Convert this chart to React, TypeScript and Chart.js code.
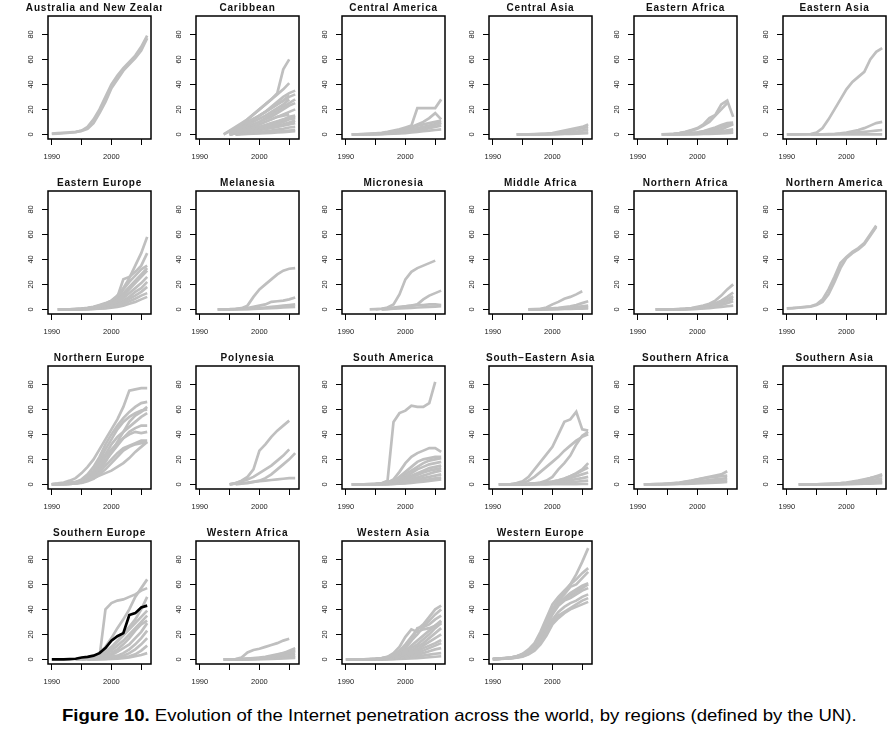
import React, { useEffect, useRef } from 'react';
import { Chart, registerables } from 'chart.js';

Chart.register(...registerables);

const N = null;

const years = [1990, 1991, 1992, 1993, 1994, 1995, 1996, 1997, 1998, 1999, 2000, 2001, 2002, 2003, 2004, 2005, 2006];
const yTickValues = [0, 20, 40, 60, 80];
const xTickValues = [1990, 1995, 2000, 2005];
const xLabelled = [1990, 2000];

const australiaNZ = [
  [0.6, 1, 1.3, 1.6, 2, 2.8, 4.5, 9, 17, 26, 37, 44, 51, 56, 61, 67, 77],
  [0.3, 0.6, 1, 1.3, 1.8, 3, 6, 12, 20, 30, 40, 47, 53, 58, 63, 70, 79],
];

const caribbean = [
  [N, N, N, N, N, 0, 4, 8, 12, 16, 20, 24, 28, 33, 52, 60, N],
  [N, N, N, N, 0, 3, 6, 9, 12, 16, 20, 24, 28, 32, 36, 41, N],
  [N, N, N, N, N, 0, 3, 6, 9, 12, 15, 18, 22, 26, 30, 33, 35],
  [N, N, N, N, 0, 2.5, 5, 7.5, 10, 12.5, 15, 18, 21, 24, 27, 30, 32],
  [N, N, N, N, N, 0, 2.5, 5, 7.5, 10, 12.5, 15, 18, 21, 24, 28, N],
  [N, N, N, N, N, 0, 2, 4, 6, 8, 10, 12, 14, 17, 20, 23, 25],
  [N, N, N, N, N, 0, 1.5, 3, 4.5, 6, 8, 10, 12, 14, 16, 18, 20],
  [N, N, N, N, N, 0, 1, 2, 3, 4.5, 6, 7.5, 9, 10.5, 12, 14, 15],
  [N, N, N, N, N, 0, 1, 2, 3, 4, 5, 6, 7, 8.5, 10, 12, 13],
  [N, N, N, N, N, 0, 0.7, 1.4, 2, 2.8, 3.5, 4.3, 5, 6, 7, 8, 9],
  [N, N, N, N, N, N, 0, 0.5, 1, 1.5, 2, 2.5, 3, 3.8, 4.5, 5.5, 6],
  [N, N, N, N, N, N, 0, 0.3, 0.6, 0.9, 1.2, 1.5, 1.8, 2.2, 2.6, 3, 3.5],
  [N, N, N, N, N, 0, 1.5, 3, 4.5, 6, 8, 10, 12, 14, 15, 16, N],
  [N, N, N, N, N, 0, 3, 6, 9, 12, 15, 18, 21, 24, 27, 31, N],
  [N, N, N, N, N, 0, 1, 2, 3, 4, 5.5, 7, 8.5, 10, 11.5, 13, 14],
  [N, N, N, N, N, N, 0, 0.2, 0.4, 0.6, 0.8, 1, 1.2, 1.5, 1.8, 2.2, 2.5],
  [N, N, N, N, N, 0, 2, 4, 6, 8, 10, 13, 16, 19, 22, 25, 28],
  [N, N, N, N, N, 0, 0.8, 1.6, 2.4, 3.2, 4, 5, 6, 7, 8, 9.5, 11],
];

const centralAmerica = [
  [N, 0, 0.1, 0.3, 0.5, 0.8, 1.2, 2, 3, 4, 5.5, 7, 21, 21, 21, 21, 28],
  [N, N, 0, 0.1, 0.3, 0.5, 0.8, 1.2, 2, 3, 4.5, 6, 8, 10, 13, 17, 12],
  [N, 0, 0.1, 0.2, 0.3, 0.5, 0.8, 1.2, 2, 3, 4, 5.5, 7, 8, 9, 10, 11],
  [N, 0, 0, 0.1, 0.2, 0.3, 0.5, 0.8, 1.2, 2, 3, 4, 5, 6, 7, 8, 9],
  [N, 0, 0, 0.1, 0.1, 0.2, 0.3, 0.5, 0.8, 1.2, 1.8, 2.5, 3.3, 4, 5, 6, 7],
  [N, 0, 0, 0, 0.1, 0.1, 0.2, 0.3, 0.5, 0.7, 1, 1.5, 2, 2.5, 3, 3.5, 4],
  [N, N, N, 0, 0.1, 0.2, 0.4, 0.7, 1, 1.5, 2.2, 3, 4, 5, 6.5, 8, 9.5],
];

const centralAsia = [
  [N, N, N, N, 0, 0, 0.1, 0.2, 0.4, 0.6, 1, 2, 3, 4, 5, 6, 8],
  [N, N, N, N, 0, 0, 0, 0.1, 0.2, 0.4, 0.6, 1, 1.5, 2.5, 4, 5, 6],
  [N, N, N, N, 0, 0, 0, 0, 0.1, 0.2, 0.4, 0.6, 1, 1.5, 2, 3, 4],
  [N, N, N, N, N, 0, 0, 0, 0, 0.1, 0.2, 0.3, 0.5, 0.7, 1, 1.3, 1.6],
  [N, N, N, N, N, N, 0, 0, 0, 0, 0.1, 0.2, 0.3, 0.4, 0.6, 0.8, 1],
];

const easternAfrica = [
  [N, N, N, N, 0, 0.2, 0.5, 1, 2, 3.5, 5, 8, 13, 15.5, 24, 27, 14],
  [N, N, N, N, 0, 0.1, 0.4, 1, 1.8, 3, 4.5, 7, 10, 15, 20, 25, N],
  [N, N, N, N, 0, 0, 0.1, 0.3, 0.6, 1, 1.5, 2.5, 4, 5.5, 7.5, 9, 9.5],
  [N, N, N, N, N, 0, 0.1, 0.2, 0.4, 0.7, 1, 1.5, 2, 3, 4, 6, 8],
  [N, N, N, N, N, 0, 0, 0.1, 0.2, 0.4, 0.6, 0.9, 1.3, 1.8, 2.5, 3.3, 4],
  [N, N, N, N, N, 0, 0, 0.1, 0.1, 0.2, 0.3, 0.5, 0.7, 1, 1.4, 1.8, 2.3],
  [N, N, N, N, N, N, 0, 0, 0.1, 0.1, 0.2, 0.3, 0.4, 0.6, 0.8, 1, 1.3],
  [N, N, N, N, N, 0, 0.1, 0.3, 0.6, 1, 1.6, 2.4, 3.3, 4.5, 6, 7.5, 8.5],
];

const easternAsia = [
  [0, 0, 0, 0.1, 0.3, 1.5, 5, 12, 20, 28, 36, 42, 46, 50, 60, 66, 69],
  [N, N, N, N, 0, 0, 0, 0.1, 0.3, 0.8, 1.5, 2.5, 3.5, 5, 7, 9, 10],
  [0, 0, 0, 0, 0, 0, 0.1, 0.2, 0.3, 0.5, 0.8, 1.2, 1.6, 2, 2.5, 3, 3.5],
  [N, N, N, N, N, 0, 0, 0, 0, 0, 0, 0, 0, 0, 0, 0, 0],
];

const easternEurope = [
  [N, 0, 0, 0.1, 0.2, 0.5, 1, 1.8, 3, 4.5, 7, 11, 17, 25, 35, 45, 58],
  [N, 0, 0, 0.1, 0.3, 0.6, 1.2, 2, 3.5, 5, 7, 10, 24, 26, 30, 35, 45],
  [N, 0, 0, 0.1, 0.2, 0.4, 0.8, 1.5, 2.5, 4, 6, 10, 16, 22, 27, 32, 35],
  [N, 0, 0, 0, 0.1, 0.3, 0.6, 1.2, 2, 3, 5, 7.5, 11, 16, 21, 26, 31],
  [N, N, 0, 0, 0.1, 0.2, 0.5, 1, 1.8, 2.8, 4, 6, 9, 13, 17, 21, 26],
  [N, N, 0, 0, 0, 0.1, 0.3, 0.6, 1.1, 1.8, 2.8, 4, 6, 8.5, 11, 14, 18],
  [N, N, 0, 0, 0, 0.1, 0.2, 0.4, 0.7, 1.2, 2, 3, 4.5, 6.5, 8.5, 11, 13],
  [N, N, N, 0, 0, 0.1, 0.2, 0.3, 0.5, 0.8, 1.3, 2, 3, 4.5, 6, 8, 10],
  [N, 0, 0, 0.1, 0.2, 0.4, 0.8, 1.5, 2.5, 4, 6, 9, 13, 18, 23, 28, 33],
  [N, N, 0, 0, 0.1, 0.2, 0.4, 0.8, 1.4, 2.2, 3.5, 5, 7, 10, 14, 17, 22],
];

const melanesia = [
  [N, N, N, 0, 0.1, 0.2, 0.5, 1, 3, 10, 16, 20, 24, 28, 31, 32.5, 33],
  [N, N, N, 0, 0, 0.1, 0.3, 0.6, 1, 2, 3, 4, 6, 6.5, 7, 8, 9.5],
  [N, N, N, 0, 0, 0, 0.1, 0.2, 0.4, 0.6, 1, 1.5, 2, 2.5, 3, 3.5, 4],
  [N, N, N, N, 0, 0, 0, 0.1, 0.2, 0.3, 0.5, 0.7, 1, 1.2, 1.5, 1.8, 2],
];

const micronesia = [
  [N, N, N, N, N, 0, 0.5, 1.5, 4, 12, 24, 30, 33, 35, 37, 39, N],
  [N, N, N, N, N, N, 0, 0.3, 0.8, 1.5, 2.5, 3, 4, 8, 11, 13, 15],
  [N, N, N, N, 0, 0.2, 0.5, 1, 1.5, 2, 2.5, 3, 3.5, 3.5, 4, 4, 3.5],
  [N, N, N, N, N, N, 0, 0.2, 0.5, 0.8, 1, 1.2, 1.5, 1.7, 2, 2.2, 2.5],
];

const middleAfrica = [
  [N, N, N, N, N, N, 0, 0.2, 0.5, 1.5, 4, 6, 8.5, 10, 12, 14.5, N],
  [N, N, N, N, N, N, 0, 0.1, 0.2, 0.4, 0.8, 1.2, 1.8, 2.5, 3.5, 5, 6.5],
  [N, N, N, N, N, N, 0, 0, 0.1, 0.2, 0.4, 0.6, 1, 1.4, 2, 2.5, 3],
  [N, N, N, N, N, N, 0, 0, 0, 0.1, 0.2, 0.3, 0.5, 0.7, 0.9, 1.2, 1.5],
  [N, N, N, N, N, N, 0, 0, 0, 0.1, 0.1, 0.2, 0.3, 0.4, 0.5, 0.6, 0.7],
];

const northernAfrica = [
  [N, N, N, 0, 0, 0, 0.1, 0.2, 0.5, 1, 2, 3, 4.5, 7, 11, 16, 20],
  [N, N, N, 0, 0, 0, 0.1, 0.2, 0.4, 0.8, 1.5, 2.5, 3.5, 5, 7, 10, 13.5],
  [N, N, N, 0, 0, 0, 0.1, 0.2, 0.4, 0.7, 1.3, 2.2, 3.5, 4.5, 6, 8, 10.5],
  [N, N, N, 0, 0, 0, 0, 0.1, 0.2, 0.5, 1, 1.8, 2.6, 3.5, 5, 7, 8.5],
  [N, N, N, 0, 0, 0, 0, 0.1, 0.2, 0.3, 0.6, 1, 1.5, 2.5, 3.5, 5, 6.5],
  [N, N, N, N, 0, 0, 0, 0, 0.1, 0.2, 0.4, 0.7, 1, 1.5, 2, 2.5, 3],
];

const northernAmerica = [
  [0.8, 1, 1.5, 2, 2.5, 4, 8, 16, 26, 37, 42, 46, 49, 53, 60, 67, N],
  [0.8, 1, 1.3, 1.7, 2.2, 3.5, 6, 12, 22, 33, 41, 45, 48, 52, 59, 66, N],
];

const northernEurope = [
  [0.3, 0.8, 1.5, 3, 5, 9, 14, 20, 28, 36, 44, 52, 62, 75, 76, 77, 77],
  [0.1, 0.3, 0.7, 1.2, 2, 4, 8, 14, 22, 32, 40, 47, 53, 58, 62, 65, 66],
  [0, 0.2, 0.5, 1, 1.8, 3, 6, 11, 19, 28, 36, 44, 50, 54, 57, 59, 60],
  [0, 0.2, 0.4, 0.8, 1.5, 2.5, 5, 10, 17, 24, 32, 38, 42, 46, 50, 54, 57],
  [0, 0.1, 0.3, 0.6, 1, 2, 4, 8, 13, 19, 25, 31, 37, 42, 45, 47, 47],
  [0, 0.1, 0.2, 0.4, 0.8, 1.5, 3, 6, 10, 15, 20, 25, 29, 31, 33, 35, 35],
  [0, 0.1, 0.2, 0.4, 0.7, 1.2, 2.5, 4.5, 8, 12, 17, 22, 27, 30, 32, 33, 34],
  [0.1, 0.2, 0.3, 0.5, 1, 2, 4, 8, 14, 22, 28, 33, 37, 40, 42, 41, 42],
  [0, 0.1, 0.2, 0.4, 0.7, 1.5, 3, 7, 12, 18, 26, 34, 42, 50, 55, 58, 62],
  [0, 0.1, 0.3, 0.6, 1, 2, 3.5, 5, 7, 9, 11, 14, 17, 21, 26, 30, 34],
];

const polynesia = [
  [N, N, N, N, N, 0, 1, 3, 6, 12, 27, 32, 38, 43, 47, 51, N],
  [N, N, N, N, N, 0, 1, 2.5, 4, 6, 9, 12, 15, 19, 23, 28, N],
  [N, N, N, N, N, N, 0, 0.5, 1, 2, 3, 5, 8, 12, 16, 20, 25],
  [N, N, N, N, N, 0, 0.5, 1, 1.5, 2, 2.5, 3, 3.5, 4, 4.5, 5, 5],
];

const southAmerica = [
  [N, N, N, N, N, N, 1, 3, 50, 57, 59, 63, 62, 62, 65, 82, N],
  [N, 0, 0, 0.1, 0.2, 0.4, 0.8, 1.5, 4, 10, 17, 22, 25, 27, 29, 29, 26],
  [N, 0, 0, 0.1, 0.2, 0.4, 0.8, 1.5, 3, 6, 10, 14, 18, 20, 21, 22, 22],
  [N, 0, 0, 0.1, 0.1, 0.3, 0.6, 1.2, 2.5, 5, 8, 11, 14, 17, 19, 20, 21],
  [N, 0, 0, 0, 0.1, 0.2, 0.5, 1, 2, 4, 6, 9, 12, 14, 16, 17, 18],
  [N, 0, 0, 0, 0.1, 0.2, 0.4, 0.8, 1.5, 3, 5, 7, 9, 11, 13, 14, 15],
  [N, 0, 0, 0, 0, 0.1, 0.3, 0.6, 1.2, 2.3, 3.7, 5.5, 7.5, 9.5, 11, 12, 13],
  [N, N, 0, 0, 0, 0.1, 0.2, 0.4, 0.8, 1.5, 2.5, 4, 5.5, 7, 8.5, 10, 11],
  [N, N, 0, 0, 0, 0, 0.1, 0.3, 0.6, 1, 1.8, 2.7, 3.8, 5, 6, 7, 8],
  [N, N, N, 0, 0, 0, 0.1, 0.2, 0.4, 0.7, 1.2, 1.8, 2.5, 3.2, 4, 4.8, 5.5],
  [N, N, N, N, 0, 0, 0, 0.1, 0.3, 0.5, 0.8, 1.2, 1.7, 2.2, 2.8, 3.3, 4],
];

const southEasternAsia = [
  [N, 0, 0.1, 0.3, 1, 2.5, 6, 12, 18, 24, 30, 40, 50, 52, 58, 44, 43],
  [N, N, 0, 0.1, 0.3, 1, 3, 6, 10, 14, 18, 22, 27, 31, 35, 38, 40],
  [N, N, N, 0, 0, 0.1, 0.3, 0.8, 1.5, 3, 6, 12, 17, 23, 32, 39, 42],
  [N, 0, 0, 0, 0.1, 0.2, 0.4, 0.7, 1.1, 1.6, 2.2, 3, 4.5, 6.5, 9, 12, 17],
  [N, 0, 0, 0, 0.1, 0.2, 0.3, 0.6, 1, 1.5, 2.2, 3.3, 4.7, 6.5, 8.5, 11, 13.5],
  [N, 0, 0, 0, 0, 0.1, 0.2, 0.4, 0.7, 1.1, 1.7, 2.5, 3.5, 5, 6.5, 8, 9.5],
  [N, N, 0, 0, 0, 0.1, 0.2, 0.3, 0.5, 0.8, 1.2, 1.8, 2.5, 3.3, 4.2, 5, 6],
  [N, N, 0, 0, 0, 0, 0.1, 0.2, 0.3, 0.4, 0.6, 0.9, 1.3, 1.7, 2.1, 2.6, 3],
  [N, N, N, N, N, 0, 0, 0, 0, 0, 0.1, 0.1, 0.1, 0.2, 0.2, 0.3, 0.3],
];

const southernAfrica = [
  [N, 0, 0.1, 0.2, 0.3, 0.6, 1, 1.5, 2.2, 3, 4, 5, 6, 7, 8, 10.5, N],
  [N, 0, 0.1, 0.2, 0.3, 0.5, 0.8, 1.2, 2, 2.8, 3.8, 4.8, 5.5, 6, 6.5, 7, N],
  [N, 0, 0, 0.1, 0.2, 0.3, 0.5, 0.8, 1.2, 1.7, 2.2, 2.8, 3.4, 4, 4.5, 5, N],
  [N, N, 0, 0, 0.1, 0.2, 0.3, 0.5, 0.7, 1, 1.3, 1.6, 2, 2.4, 2.8, 3.2, N],
  [N, N, 0, 0, 0, 0.1, 0.2, 0.3, 0.4, 0.5, 0.7, 0.9, 1.1, 1.3, 1.6, 1.9, N],
];

const southernAsia = [
  [N, N, 0, 0, 0, 0.1, 0.2, 0.4, 0.7, 1, 1.5, 2.2, 3, 4, 5, 6.5, 8],
  [N, N, 0, 0, 0, 0.1, 0.2, 0.3, 0.5, 0.8, 1.2, 1.8, 2.6, 3.5, 5, 6, 6.5],
  [N, N, 0, 0, 0, 0, 0.1, 0.2, 0.3, 0.5, 0.8, 1.2, 1.7, 2.3, 3, 4, 4.5],
  [N, N, 0, 0, 0, 0, 0.1, 0.1, 0.2, 0.3, 0.5, 0.7, 1, 1.4, 1.8, 2.3, 2.8],
  [N, N, N, 0, 0, 0, 0, 0.1, 0.1, 0.2, 0.3, 0.4, 0.6, 0.8, 1.1, 1.4, 1.7],
  [N, N, N, N, 0, 0, 0, 0, 0.1, 0.1, 0.2, 0.3, 0.4, 0.5, 0.6, 0.8, 1],
];

const southernEurope = [
  [N, N, N, N, N, 0, 0.5, 1, 2, 40, 45, 47, 48, 50, 52, 55, 57],
  [N, N, N, N, 0, 0.5, 1, 2, 5, 10, 17, 25, 32, 40, 50, 57, 64],
  [N, N, N, N, 0, 0.3, 0.8, 1.5, 3, 6, 10, 15, 20, 26, 32, 40, 50],
  [N, N, N, N, 0, 0.2, 0.6, 1.2, 2.5, 5, 9, 14, 19, 24, 29, 34, 39],
  [N, N, N, N, 0, 0.2, 0.5, 1, 2, 4, 7, 11, 15, 20, 25, 30, 35],
  [N, N, N, N, N, 0, 0.3, 0.8, 1.5, 3, 5, 8, 12, 17, 23, 28, 31],
  [N, N, N, N, N, 0, 0.2, 0.5, 1, 2, 3.5, 6, 9, 12, 17, 22, 29],
  [N, N, N, N, N, N, 0, 0.2, 0.5, 1, 2, 3, 5, 8, 12, 17, 23],
  [N, N, N, N, N, N, 0, 0.1, 0.3, 0.6, 1, 2, 3, 5, 8, 12, 17],
  [N, N, N, N, N, N, 0, 0.1, 0.2, 0.4, 0.7, 1, 1.5, 2.5, 4, 7, 11],
  [N, N, N, N, N, N, 0, 0, 0.1, 0.2, 0.4, 0.6, 1, 1.5, 2.5, 3.5, 5],
];
const southernEuropeHighlight = [0, 0, 0, 0.2, 0.5, 1.5, 2, 3, 5, 9, 15, 18.5, 21, 35.5, 37, 41.5, 43];

const westernAfrica = [
  [N, N, N, N, 0, 0, 0.2, 1.5, 5.5, 7.5, 8.5, 10, 11.5, 13, 15, 16.5, N],
  [N, N, N, N, 0, 0, 0.1, 0.2, 0.4, 0.7, 1, 1.5, 2.5, 3.5, 5, 7, 9],
  [N, N, N, N, 0, 0, 0.1, 0.2, 0.3, 0.5, 0.8, 1.2, 1.8, 2.6, 3.6, 5, 6.5],
  [N, N, N, N, 0, 0, 0, 0.1, 0.2, 0.4, 0.6, 0.9, 1.3, 1.8, 2.6, 3.6, 4.5],
  [N, N, N, N, N, 0, 0, 0.1, 0.2, 0.3, 0.5, 0.7, 1, 1.3, 1.8, 2.3, 3],
  [N, N, N, N, N, 0, 0, 0, 0.1, 0.2, 0.3, 0.4, 0.6, 0.8, 1.1, 1.4, 1.8],
  [N, N, N, N, N, N, 0, 0, 0.1, 0.1, 0.2, 0.3, 0.4, 0.5, 0.7, 0.9, 1.1],
  [N, N, N, N, 0, 0, 0.1, 0.3, 0.6, 1, 1.5, 2, 3, 4, 5, 6, 7.5],
];

const westernAsia = [
  [0, 0, 0, 0.1, 0.2, 0.5, 1, 2, 4, 7, 12, 18, 24, 28, 34, 40, 43],
  [0, 0, 0, 0.1, 0.2, 0.4, 0.8, 1.5, 3, 6, 10, 15, 20, 26, 31, 36, 40],
  [N, 0, 0, 0, 0.1, 0.3, 0.6, 1.2, 2.5, 5, 9, 15, 25, 26, 28, 32, 35],
  [N, 0, 0, 0, 0.1, 0.3, 0.6, 1.2, 2.2, 4, 7, 11, 15, 19, 23, 27, 31],
  [N, 0, 0, 0, 0.1, 0.2, 0.5, 1, 2, 3.5, 6, 9, 12, 16, 20, 25, 29],
  [N, N, 0, 0, 0, 0.2, 0.4, 0.8, 1.5, 2.8, 4.5, 7, 10, 13, 17, 21, 25],
  [N, N, 0, 0, 0, 0.1, 0.3, 0.6, 1.2, 2.2, 3.5, 5.5, 8, 11, 14, 17, 20],
  [N, N, 0, 0, 0, 0.1, 0.2, 0.5, 1, 1.8, 3, 4.5, 6.5, 9, 11, 13, 15.5],
  [N, N, N, 0, 0, 0, 0.2, 0.4, 0.8, 1.4, 2.3, 3.5, 5, 7, 9, 11, 13],
  [N, N, N, 0, 0, 0, 0.1, 0.3, 0.6, 1, 1.7, 2.6, 3.7, 5, 6.5, 8, 9],
  [N, N, N, N, 0, 0, 0.1, 0.2, 0.4, 0.7, 1.1, 1.6, 2.3, 3, 3.8, 4.5, 5],
  [N, N, N, N, N, 0, 0, 0.1, 0.2, 0.3, 0.5, 0.7, 1, 1.3, 1.7, 2.1, 2.5],
  [0, 0, 0, 0.1, 0.2, 0.4, 0.8, 2, 5, 10, 18, 24, 22, 24, 25, 27, 30],
];

const westernEurope = [
  [0.3, 0.6, 1, 1.5, 2.5, 4, 7, 12, 20, 30, 40, 46, 53, 60, 68, 78, 89],
  [0.3, 0.6, 1, 1.5, 2.5, 4.5, 8, 13, 22, 33, 44, 50, 55, 60, 64, 69, 73],
  [0.2, 0.5, 0.8, 1.3, 2, 3.5, 6, 10, 17, 27, 38, 45, 49, 53, 56, 59, 61],
  [0.2, 0.4, 0.7, 1.1, 1.8, 3, 5.5, 10, 17, 26, 36, 43, 47, 49, 52, 55, 57],
  [0.2, 0.4, 0.7, 1, 1.6, 2.8, 5, 9, 15, 23, 32, 38, 42, 45, 47, 50, 52],
  [0.1, 0.3, 0.6, 0.9, 1.5, 2.5, 4.5, 8, 14, 21, 30, 35, 38, 41, 44, 47, 49],
  [0.1, 0.3, 0.5, 0.8, 1.3, 2.2, 4, 7, 12, 19, 28, 33, 37, 40, 42, 44, 46],
  [0.2, 0.5, 0.9, 1.4, 2.2, 3.8, 7, 12, 19, 29, 40, 48, 52, 58, 60, 65, 70],
  [0.2, 0.4, 0.8, 1.2, 2, 3.2, 6, 11, 18, 28, 38, 44, 48, 51, 54, 57, 60],
];

const regionTitles = [
  'Australia and New Zealand', 'Caribbean', 'Central America', 'Central Asia', 'Eastern Africa', 'Eastern Asia',
  'Eastern Europe', 'Melanesia', 'Micronesia', 'Middle Africa', 'Northern Africa', 'Northern America',
  'Northern Europe', 'Polynesia', 'South America', 'South\u2212Eastern Asia', 'Southern Africa', 'Southern Asia',
  'Southern Europe', 'Western Africa', 'Western Asia', 'Western Europe',
];
const regionSeries = [
  australiaNZ, caribbean, centralAmerica, centralAsia, easternAfrica, easternAsia,
  easternEurope, melanesia, micronesia, middleAfrica, northernAfrica, northernAmerica,
  northernEurope, polynesia, southAmerica, southEasternAsia, southernAfrica, southernAsia,
  southernEurope, westernAfrica, westernAsia, westernEurope,
];
const regionHighlight: Record<string, (number | null)[]> = {
  'Southern Europe': southernEuropeHighlight,
};

// Layout (pixels)
const PANEL_W = 147;
const PANEL_H = 175;
const BOX_LEFT_IN_PANEL = 33;
const BOX_TOP_IN_PANEL = 16;
const BOX_RIGHT_MARGIN = 11;
const X_AXIS_H = 36;
const colBoxLefts = [48, 196, 342, 489, 634, 783];
const rowTops = [0, 175, 350, 525];

const FONT = '"Liberation Sans", Arial, Helvetica, sans-serif';

const decorPlugin = {
  id: 'panelDecor',
  afterDraw(chart: any, _args: any, opts: any) {
    const { ctx, chartArea } = chart;
    const { left, right, top, bottom } = chartArea;
    ctx.save();
    ctx.strokeStyle = '#000';
    ctx.lineWidth = 1.5;
    ctx.strokeRect(left, top, right - left, bottom - top);

    ctx.fillStyle = '#111';
    ctx.font = `bold 10px ${FONT}`;
    try { (ctx as any).letterSpacing = '0.8px'; } catch (e) { /* ignore */ }
    ctx.textAlign = 'center';
    ctx.textBaseline = 'middle';
    ctx.fillText(opts.text, (left + right) / 2, 8);

    try { (ctx as any).letterSpacing = '0px'; } catch (e) { /* ignore */ }
    ctx.font = `7.5px ${FONT}`;
    ctx.fillStyle = '#1a1a1a';
    const ys = chart.scales.y;
    for (const v of yTickValues) {
      const py = ys.getPixelForValue(v);
      ctx.save();
      ctx.translate(left - 17.5, py);
      ctx.rotate(-Math.PI / 2);
      ctx.fillText(String(v), 0, 0);
      ctx.restore();
    }
    ctx.restore();
  },
};

function Panel({ index }: { index: number }) {
  const ref = useRef<HTMLCanvasElement>(null);
  const title = regionTitles[index];
  const col = index % 6;
  const row = Math.floor(index / 6);
  const left = colBoxLefts[col] - BOX_LEFT_IN_PANEL;
  const top = rowTops[row];

  useEffect(() => {
    if (!ref.current) return;
    const series = regionSeries[index];
    const datasets: any[] = series.map((s) => ({
      data: years.map((yr, i) => ({ x: yr, y: s[i] })),
      borderColor: '#bfbfbf',
      borderWidth: 2.7,
      pointRadius: 0,
      fill: false,
      tension: 0,
      spanGaps: false,
    }));
    const hl = regionHighlight[title];
    if (hl) {
      datasets.push({
        data: years.map((yr, i) => ({ x: yr, y: hl[i] })),
        borderColor: '#000',
        borderWidth: 2.7,
        pointRadius: 0,
        fill: false,
        tension: 0,
        order: -1,
      });
    }
    const gridOpts = {
      display: true,
      drawOnChartArea: false,
      drawTicks: true,
      tickLength: 6,
      color: '#000',
      lineWidth: 1,
    };
    const chart = new Chart(ref.current, {
      type: 'line',
      data: { datasets },
      options: {
        responsive: false,
        animation: false,
        devicePixelRatio: 1,
        events: [],
        layout: { padding: { top: BOX_TOP_IN_PANEL, right: BOX_RIGHT_MARGIN, left: 0, bottom: 0 } },
        plugins: {
          legend: { display: false },
          tooltip: { enabled: false },
          title: { display: false },
          panelDecor: { text: title },
        } as any,
        scales: {
          x: {
            type: 'linear',
            min: 1989.36,
            max: 2006.64,
            afterBuildTicks: (s: any) => { s.ticks = xTickValues.map((v) => ({ value: v })); },
            afterFit: (s: any) => { s.height = X_AXIS_H; },
            grid: gridOpts,
            border: { display: false },
            ticks: {
              autoSkip: false,
              maxRotation: 0,
              minRotation: 0,
              padding: 7,
              color: '#1a1a1a',
              font: { size: 7.5, family: FONT },
              callback: (v: any) => (xLabelled.includes(Number(v)) ? String(v) : ''),
            },
          },
          y: {
            type: 'linear',
            min: -3.7,
            max: 94.7,
            afterBuildTicks: (s: any) => { s.ticks = yTickValues.map((v) => ({ value: v })); },
            afterFit: (s: any) => { s.width = BOX_LEFT_IN_PANEL; },
            grid: gridOpts,
            border: { display: false },
            ticks: { display: false },
          },
        },
      } as any,
      plugins: [decorPlugin as any],
    });
    return () => chart.destroy();
  }, [index]);

  return (
    <canvas
      ref={ref}
      width={PANEL_W}
      height={PANEL_H}
      style={{ position: 'absolute', left, top, width: PANEL_W, height: PANEL_H }}
    />
  );
}

function Caption() {
  const ref = useRef<HTMLDivElement>(null);
  useEffect(() => {
    const el = ref.current;
    if (!el) return;
    const w = el.scrollWidth;
    if (w > 0) el.style.transform = `scaleX(${795 / w})`;
  }, []);
  return (
    <div
      ref={ref}
      style={{
        position: 'absolute',
        left: 62,
        top: 706,
        whiteSpace: 'nowrap',
        transformOrigin: '0 0',
        fontFamily: FONT,
        fontSize: 17,
        lineHeight: '20px',
        color: '#000',
      }}
    >
      <b>Figure 10.</b> Evolution of the Internet penetration across the world, by regions (defined by the UN).
    </div>
  );
}

export default function App() {
  return (
    <div
      style={{
        position: 'absolute',
        left: 0,
        top: 0,
        width: 893,
        height: 734,
        background: '#fff',
        overflow: 'hidden',
      }}
    >
      {regionTitles.map((_, i) => (
        <Panel key={i} index={i} />
      ))}
      <Caption />
    </div>
  );
}
